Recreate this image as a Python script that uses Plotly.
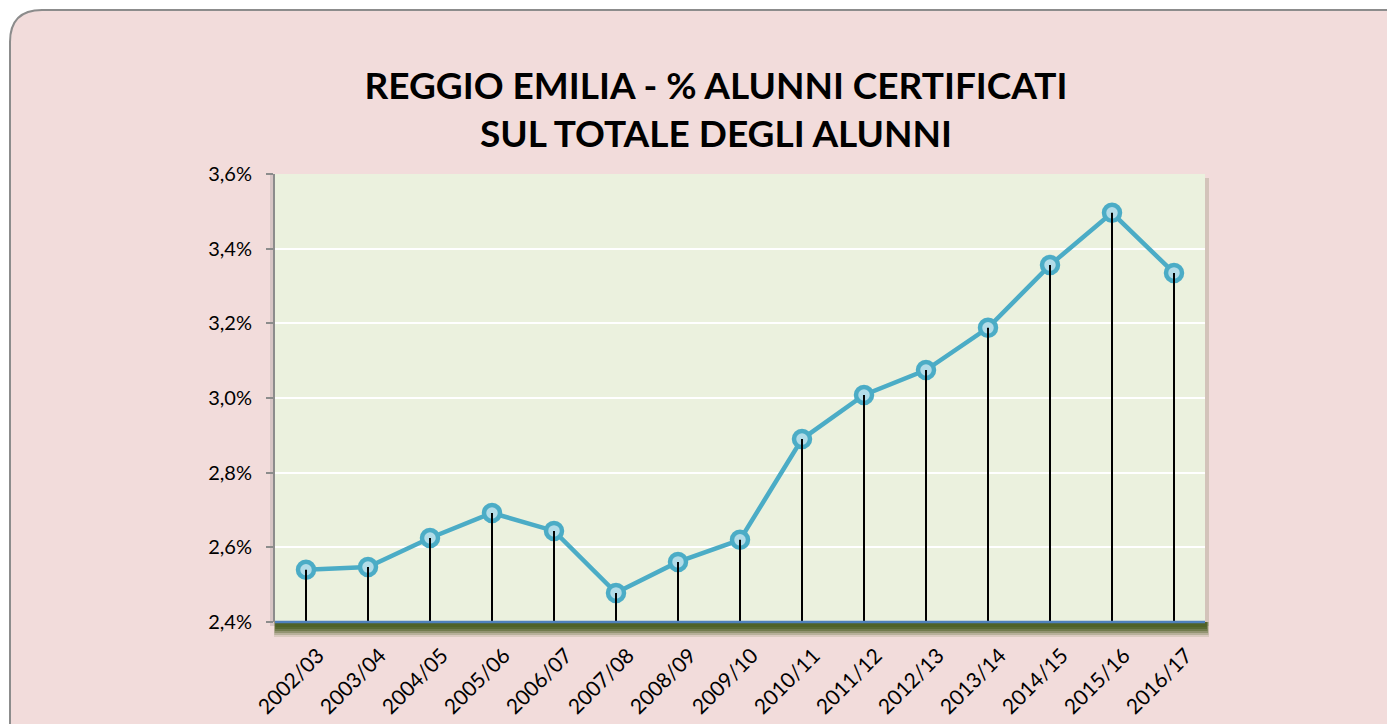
import plotly.graph_objects as go

categories = ["2002/03", "2003/04", "2004/05", "2005/06", "2006/07", "2007/08", "2008/09",
              "2009/10", "2010/11", "2011/12", "2012/13", "2013/14", "2014/15", "2015/16", "2016/17"]
values = [2.54, 2.547, 2.625, 2.692, 2.644, 2.478, 2.561, 2.62, 2.89, 3.008, 3.075, 3.188, 3.356, 3.496, 3.335]
y_ticks = [2.4, 2.6, 2.8, 3.0, 3.2, 3.4, 3.6]
title_lines = ["REGGIO EMILIA - % ALUNNI CERTIFICATI", "SUL TOTALE DEGLI ALUNNI"]

OFF = 8  # page body margin
W, H = 1395, 724
# plot area in page pixels: x 275..1205, y 174..622
PL, PR, PT, PB = 275, 1205, 174, 622
ML, MT = PL - OFF, PT - OFF
MR, MB = W - (PR - OFF), H - (PB - OFF)
PW, PH = PR - PL, PB - PT
ymin, ymax = y_ticks[0], y_ticks[-1]

def px(x):
    return (x - PL) / PW

def py(y):
    return (PB - y) / PH

fig = go.Figure()

# drop lines from each point to the axis base
sx, sy = [], []
for c, v in zip(categories, values):
    sx += [c, c, None]
    sy += [v, ymin, None]

fig.add_trace(go.Scatter(
    x=categories, y=values, mode="lines+markers",
    line=dict(color="#4BACC6", width=4.5),
    marker=dict(size=16, color="#B2DCE8", line=dict(color="#4BACC6", width=4.5)),
    hoverinfo="skip", showlegend=False,
))
fig.add_trace(go.Scatter(
    x=sx, y=sy, mode="lines", line=dict(color="black", width=2),
    hoverinfo="skip", showlegend=False,
))

# rounded outer frame
r = 32
x0, y0 = px(10), py(10)
x1, y1 = px(W + 40), py(H + 40)
rx, ry = r / PW, r / PH
frame_path = (f"M {x0},{y1} L {x0},{y0 - ry} Q {x0},{y0} {x0 + rx},{y0} "
              f"L {x1},{y0} L {x1},{y1} Z")

shapes = [
    dict(type="path", path=frame_path, xref="paper", yref="paper",
         fillcolor="#F2DCDB", line=dict(color="#8C8C8C", width=2), layer="below"),
    # left soft shadow
    dict(type="rect", xref="paper", yref="paper", x0=px(270), x1=0, y0=py(626), y1=1,
         fillcolor="rgba(120,120,120,0.22)", line=dict(width=0), layer="below"),
    # right faint shadow
    dict(type="rect", xref="paper", yref="paper", x0=1, x1=px(1209), y0=py(626), y1=py(178),
         fillcolor="rgba(140,140,110,0.3)", line=dict(width=0), layer="below"),
]
# bottom olive gradient shadow
for i, a in enumerate([0.15, 0.25, 0.35, 0.5, 0.7, 0.95]):
    depth = 15 - 2 * i
    shapes.append(dict(type="rect", xref="paper", yref="paper",
                       x0=px(PL - 1 + i * 0.3), x1=px(PR + 4 - i * 0.5),
                       y0=py(PB + depth), y1=0,
                       fillcolor=f"rgba(79,98,40,{a})", line=dict(width=0), layer="below"))
shapes += [
    # plot area fill
    dict(type="rect", xref="paper", yref="paper", x0=0, x1=1, y0=0, y1=1,
         fillcolor="#EBF1DE", line=dict(width=0), layer="below"),
    # bottom axis line
    dict(type="line", xref="paper", yref="paper", x0=0, x1=1, y0=0, y1=0,
         line=dict(color="#4F81BD", width=2.5), layer="above"),
]

tick_text = [f"{v:.1f}".replace(".", ",") + "%" for v in y_ticks]

fig.update_layout(
    width=W, height=H,
    margin=dict(l=ML, r=MR, t=MT, b=MB),
    paper_bgcolor="white",
    plot_bgcolor="rgba(0,0,0,0)",
    font=dict(family="Lato, 'Open Sans', sans-serif", color="black"),
    shapes=shapes,
    title=dict(
        text="<br>".join(f"<b>{t}</b>" for t in title_lines),
        x=(716 - OFF) / W, xanchor="center", y=1 - (99 - OFF) / H, yanchor="middle",
        font=dict(size=37, family="Lato, sans-serif", color="black"),
    ),
    xaxis=dict(
        type="category", range=[-0.5, len(categories) - 0.5],
        showgrid=False, showline=False, tickangle=-45,
        ticks="outside", ticklen=12, tickcolor="rgba(0,0,0,0)",
        tickfont=dict(size=21), automargin=False, ticklabelshift=12,
    ),
    yaxis=dict(
        range=[ymin, ymax], tickvals=y_ticks, ticktext=tick_text,
        showgrid=True, gridcolor="white", gridwidth=2,
        showline=True, linecolor="#8C8C8C", linewidth=2,
        ticks="outside", ticklen=7, tickcolor="#8C8C8C", tickwidth=2,
        tickfont=dict(size=20), zeroline=False, automargin=False,
        ticklabelstandoff=10,
    ),
)

fig.write_html("out.html")
